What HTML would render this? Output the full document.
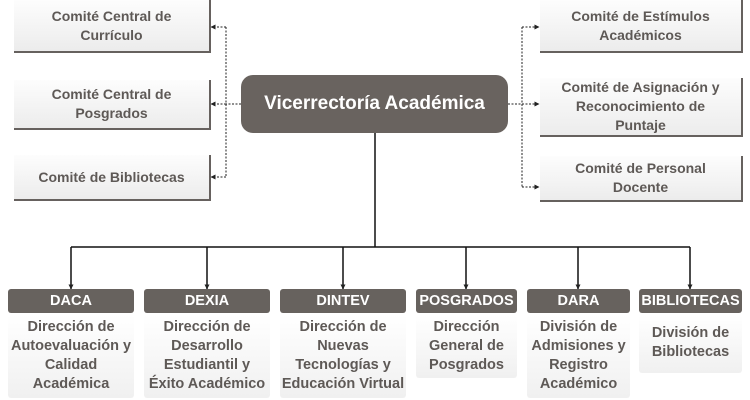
<!DOCTYPE html>
<html><head><meta charset="utf-8"><style>
body{margin:0;width:750px;height:400px;background:#fff;position:relative;overflow:hidden;font-family:"Liberation Sans",sans-serif;font-weight:bold;color:#5e5956}
.c{position:absolute;background:linear-gradient(#fdfdfd,#ececec);border-right:2px solid #66615e;border-bottom:2px solid #66615e;display:flex;align-items:center;justify-content:center;text-align:center;font-size:14px;line-height:19px;box-sizing:border-box}
.h{position:absolute;top:289px;height:24px;background:#67625e;color:#fff;border-radius:3px;display:flex;align-items:center;justify-content:center;font-size:14.5px}
.b{position:absolute;top:315px;background:linear-gradient(#fff,#f0f0f0);border-radius:3px;text-align:center;font-size:14.5px;line-height:19px;padding-top:3px;box-sizing:border-box;white-space:nowrap}
.m{position:absolute;left:241px;top:75px;width:267px;height:58px;background:#69635f;border-radius:12px;color:#fff;font-size:19px;display:flex;align-items:center;justify-content:center}
svg{position:absolute;left:0;top:0}
</style></head><body>
<svg width="750" height="400">
<defs><marker id="a" markerUnits="userSpaceOnUse" markerWidth="5" markerHeight="5" refX="4.5" refY="2.5" orient="auto"><path d="M0,0 L5,2.5 L0,5z" fill="#222"/></marker></defs>
<g stroke="#222" stroke-width="1" stroke-dasharray="2,1.5" fill="none">
<path d="M241,104 H226"/><path d="M226,27 V177"/>
<path d="M226,27 H211" marker-end="url(#a)"/><path d="M226,104 H211" marker-end="url(#a)"/><path d="M226,177 H211" marker-end="url(#a)"/>
<path d="M508,104 H522"/><path d="M522,27 V187"/>
<path d="M522,27 H539" marker-end="url(#a)"/><path d="M522,104 H539" marker-end="url(#a)"/><path d="M522,187 H539" marker-end="url(#a)"/>
</g>
<g stroke="#111" stroke-width="1.5" fill="none">
<path d="M375,133 V247"/><path d="M71,247 H690"/>
<path d="M71,247 V289" marker-end="url(#a)"/><path d="M207,247 V289" marker-end="url(#a)"/><path d="M343,247 V289" marker-end="url(#a)"/><path d="M466,247 V289" marker-end="url(#a)"/><path d="M578,247 V289" marker-end="url(#a)"/><path d="M690,247 V289" marker-end="url(#a)"/>
</g>
</svg>
<div class="c" style="left:14px;top:0;width:197px;height:53px">Comité Central de<br>Currículo</div>
<div class="c" style="left:14px;top:80px;width:197px;height:50px">Comité Central de<br>Posgrados</div>
<div class="c" style="left:14px;top:155px;width:197px;height:46px">Comité de Bibliotecas</div>
<div class="c" style="left:540px;top:0;width:203px;height:53px">Comité de Estímulos<br>Académicos</div>
<div class="c" style="left:540px;top:78px;width:203px;height:59px">Comité de Asignación y<br>Reconocimiento de<br>Puntaje</div>
<div class="c" style="left:540px;top:156px;width:203px;height:46px">Comité de Personal<br>Docente</div>
<div class="m">Vicerrectoría Académica</div>
<div class="h" style="left:8px;width:126px">DACA</div>
<div class="h" style="left:144px;width:126px">DEXIA</div>
<div class="h" style="left:280px;width:126px">DINTEV</div>
<div class="h" style="left:416px;width:101px">POSGRADOS</div>
<div class="h" style="left:527px;width:103px">DARA</div>
<div class="h" style="left:639px;width:103px">BIBLIOTECAS</div>
<div class="b" style="left:8px;width:126px;height:83px">Dirección de<br>Autoevaluación y<br>Calidad<br>Académica</div>
<div class="b" style="left:144px;width:126px;height:83px">Dirección de<br>Desarrollo<br>Estudiantil y<br>Éxito Académico</div>
<div class="b" style="left:280px;width:126px;height:83px">Dirección de<br>Nuevas<br>Tecnologías y<br>Educación Virtual</div>
<div class="b" style="left:416px;width:101px;height:63px">Dirección<br>General de<br>Posgrados</div>
<div class="b" style="left:527px;width:103px;height:83px">División de<br>Admisiones y<br>Registro<br>Académico</div>
<div class="b" style="left:639px;width:103px;height:58px;padding-top:9px">División de<br>Bibliotecas</div>
</body></html>
